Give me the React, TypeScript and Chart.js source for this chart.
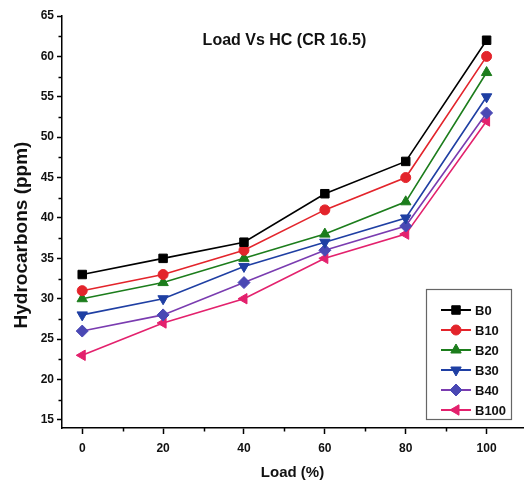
import React, { useEffect, useRef } from "react";
import { Chart, registerables } from "chart.js";
import { drawPoint } from "chart.js/helpers";

Chart.register(...registerables);

const TITLE = "Load Vs HC (CR 16.5)";
const X_TITLE = "Load (%)";
const Y_TITLE = "Hydrocarbons (ppm)";

const LOADS = [0, 20, 40, 60, 80, 100];
const X_TICKS = [0, 20, 40, 60, 80, 100];
const X_MINOR = [10, 30, 50, 70, 90];
const Y_TICKS = [15, 20, 25, 30, 35, 40, 45, 50, 55, 60, 65];
const Y_MINOR = [17.5, 22.5, 27.5, 32.5, 37.5, 42.5, 47.5, 52.5, 57.5, 62.5];

const SERIES_NAMES = ["B0", "B10", "B20", "B30", "B40", "B100"];
const B0 = [33, 35, 37, 43, 47, 62];
const B10 = [31, 33, 36, 41, 45, 60];
const B20 = [30, 32, 35, 38, 42, 58];
const B30 = [28, 30, 34, 37, 40, 55];
const B40 = [26, 28, 32, 36, 39, 53];
const B100 = [23, 27, 30, 35, 38, 52];
const SERIES_VALUES = [B0, B10, B20, B30, B40, B100];

const LINE_COLORS = ["#000000", "#e3242b", "#1c7d1c", "#1f3fa3", "#7a3cb0", "#e3216d"];
const MARKER_COLORS = ["#000000", "#e3242b", "#1c7d1c", "#1f3fa3", "#4a48b4", "#e3216d"];
const POINT_STYLES = ["rect", "circle", "triangle", "triangle", "rectRot", "triangle"];
const POINT_ROTATIONS = [0, 0, 0, 180, 0, -90];
const POINT_RADII = [6, 5, 6, 6, 6, 6];

const FONT = '"Liberation Sans", Arial, sans-serif';

const overlay = {
  id: "overlay",
  afterDraw(chart: any) {
    const ctx = chart.ctx;
    const xs = chart.scales.x;
    const ys = chart.scales.y;
    const ca = chart.chartArea;
    ctx.save();
    ctx.strokeStyle = "#000";
    ctx.lineWidth = 1.5;
    ctx.beginPath();
    X_MINOR.forEach((v) => {
      const px = Math.round(xs.getPixelForValue(v)) + 0.5;
      ctx.moveTo(px, ca.bottom);
      ctx.lineTo(px, ca.bottom + 3.5);
    });
    Y_MINOR.forEach((v) => {
      const py = Math.round(ys.getPixelForValue(v)) + 0.5;
      ctx.moveTo(ca.left, py);
      ctx.lineTo(ca.left - 3.5, py);
    });
    ctx.stroke();

    // title
    ctx.fillStyle = "#111";
    ctx.textAlign = "center";
    ctx.textBaseline = "middle";
    ctx.font = `bold 16px ${FONT}`;
    ctx.fillText(TITLE, xs.getPixelForValue(50), ys.getPixelForValue(61.9));

    // axis titles
    ctx.font = `bold 15px ${FONT}`;
    ctx.fillText(X_TITLE, (ca.left + ca.right) / 2, ca.bottom + 45);
    ctx.save();
    ctx.translate(22, (ca.top + ca.bottom) / 2 + 13);
    ctx.rotate(-Math.PI / 2);
    ctx.font = `bold 19px ${FONT}`;
    ctx.fillText(Y_TITLE, 0, 0);
    ctx.restore();

    // legend
    const bw = 85;
    const bh = 130;
    const bx = ca.right - 12 - bw;
    const by = ca.bottom - 9 - bh;
    ctx.fillStyle = "#fff";
    ctx.fillRect(bx, by, bw, bh);
    ctx.strokeStyle = "#666";
    ctx.lineWidth = 1.2;
    ctx.strokeRect(bx + 0.5, by + 0.5, bw, bh);
    SERIES_NAMES.forEach((name, i) => {
      const yy = by + 21 + i * 20;
      ctx.strokeStyle = LINE_COLORS[i];
      ctx.lineWidth = 2;
      ctx.beginPath();
      ctx.moveTo(bx + 15, yy);
      ctx.lineTo(bx + 45, yy);
      ctx.stroke();
      ctx.fillStyle = MARKER_COLORS[i];
      ctx.strokeStyle = MARKER_COLORS[i];
      ctx.lineWidth = 1;
      drawPoint(
        ctx,
        { pointStyle: POINT_STYLES[i] as any, rotation: POINT_ROTATIONS[i], radius: POINT_RADII[i], borderWidth: 1 },
        bx + 30,
        yy
      );
      ctx.fillStyle = "#111";
      ctx.textAlign = "left";
      ctx.textBaseline = "middle";
      ctx.font = `bold 13px ${FONT}`;
      ctx.fillText(name, bx + 49, yy + 1);
    });
    ctx.restore();
  },
};

export default function App() {
  const ref = useRef<HTMLCanvasElement | null>(null);
  useEffect(() => {
    if (!ref.current) return;
    const datasets = SERIES_NAMES.map((name, i) => ({
      label: name,
      data: LOADS.map((x, j) => ({ x, y: SERIES_VALUES[i][j] })),
      borderColor: LINE_COLORS[i],
      backgroundColor: MARKER_COLORS[i],
      borderWidth: 1.6,
      pointStyle: POINT_STYLES[i],
      rotation: POINT_ROTATIONS[i],
      pointRadius: POINT_RADII[i],
      pointBackgroundColor: MARKER_COLORS[i],
      pointBorderColor: MARKER_COLORS[i],
      pointBorderWidth: 1,
      tension: 0,
      clip: false as any,
    }));
    const chart = new Chart(ref.current, {
      type: "line",
      data: { datasets },
      plugins: [overlay],
      options: {
        animation: false,
        responsive: false,
        devicePixelRatio: 1,
        layout: { padding: { top: 16, right: 0, left: 0, bottom: 0 } },
        plugins: { legend: { display: false }, title: { display: false }, tooltip: { enabled: false } },
        scales: {
          x: {
            type: "linear",
            min: -5,
            max: 109,
            afterBuildTicks: (s: any) => {
              s.ticks = X_TICKS.map((v) => ({ value: v }));
            },
            afterFit: (s: any) => {
              s.height = 65;
            },
            grid: { display: true, drawOnChartArea: false, drawTicks: true, tickLength: 6, tickWidth: 1.5, tickColor: "#000" },
            border: { display: true, color: "#000", width: 1.5 },
            ticks: { color: "#111", padding: 7, maxRotation: 0, autoSkip: false, font: { family: FONT, size: 12, weight: "bold" } },
          },
          y: {
            type: "linear",
            min: 14,
            max: 65,
            afterBuildTicks: (s: any) => {
              s.ticks = Y_TICKS.map((v) => ({ value: v }));
            },
            afterFit: (s: any) => {
              s.width = 62;
            },
            grid: { display: true, drawOnChartArea: false, drawTicks: true, tickLength: 5, tickWidth: 1.5, tickColor: "#000" },
            border: { display: true, color: "#000", width: 1.5 },
            ticks: { color: "#111", padding: 3, autoSkip: false, font: { family: FONT, size: 12, weight: "bold" } },
          },
        },
      },
    });
    return () => chart.destroy();
  }, []);
  return (
    <div style={{ position: "absolute", left: 0, top: 0, width: 530, height: 493, background: "#fff" }}>
      <canvas ref={ref} width={530} height={493} style={{ display: "block" }} />
    </div>
  );
}
